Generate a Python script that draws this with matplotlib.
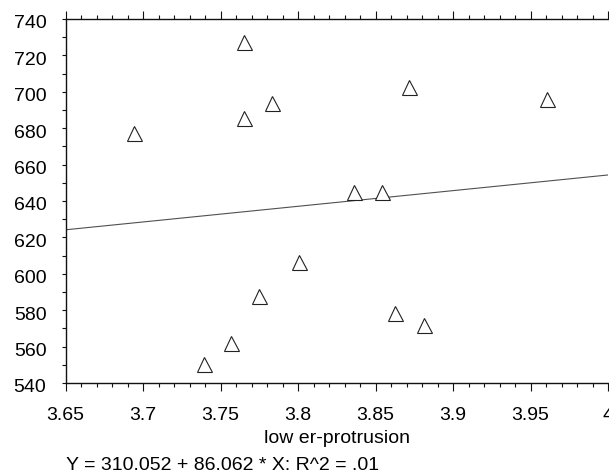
import matplotlib
matplotlib.use("Agg")
import matplotlib.pyplot as plt
from matplotlib.ticker import MultipleLocator, FixedLocator
import matplotlib.transforms as mtransforms
import numpy as np

plt.rcParams['font.family'] = ['Liberation Sans', 'DejaVu Sans']

# data
x_vals = [3.6944, 3.7652, 3.7834, 3.7652, 3.8714, 3.9606, 3.8361, 3.8541,
          3.8006, 3.7748, 3.7568, 3.7394, 3.8627, 3.8813]
y_vals = [677.2, 727.3, 694.0, 685.8, 702.5, 696.0, 645.1, 645.1,
          606.5, 587.8, 561.8, 550.3, 578.5, 572.0]
intercept = 310.052
slope = 86.062
x_ticks = [3.65, 3.7, 3.75, 3.8, 3.85, 3.9, 3.95, 4.0]
x_ticklabels = ['3.65', '3.7', '3.75', '3.8', '3.85', '3.9', '3.95', '4']
y_ticks = [540, 560, 580, 600, 620, 640, 660, 680, 700, 720, 740]
x_label = 'low er-protrusion'
footer = 'Y = 310.052 + 86.062 * X: R^2 = .01'

FS = 14
W, H = 609, 476
fig = plt.figure(figsize=(W / 100, H / 100), dpi=100)
ax = fig.add_axes([65.5 / W, 1 - 383 / H, (608 - 65.5) / W, (383 - 19) / H])

ax.set_xlim(3.65, 4.0)
ax.set_ylim(540, 740)

xl = np.array([3.65, 4.0])
ax.plot(xl, intercept + slope * xl, color='#505050', lw=0.8, zorder=2, clip_on=True)
ax.plot(x_vals, y_vals, linestyle='none', marker='^', ms=10.8, mfc='white',
        mec='#222222', mew=0.8, zorder=3, clip_on=False)

ax.spines['right'].set_visible(False)
for s in ['left', 'bottom', 'top']:
    ax.spines[s].set_linewidth(1.0)
    ax.spines[s].set_color('#111111')

ax.xaxis.set_major_locator(FixedLocator(x_ticks))
ax.set_xticklabels(x_ticklabels)
ax.xaxis.set_minor_locator(MultipleLocator(0.01))
ax.yaxis.set_major_locator(FixedLocator(y_ticks))
ax.yaxis.set_minor_locator(MultipleLocator(10))

ax.tick_params(axis='x', which='major', direction='out', length=6, width=0.8,
               top=True, bottom=True, labelsize=FS, pad=11, colors='#111111')
ax.tick_params(axis='x', which='minor', direction='out', length=3, width=0.8,
               top=True, bottom=True, colors='#111111')
ax.tick_params(axis='y', which='both', direction='out', length=3.2, width=0.8,
               left=True, right=False, labelsize=FS, pad=10.5, colors='#111111')

# y tick labels sit slightly below their ticks in the reference
offset = mtransforms.ScaledTranslation(0, -3 / 100, fig.dpi_scale_trans)
for t in ax.yaxis.get_major_ticks():
    t.label1.set_transform(t.label1.get_transform() + offset)
for lab in ax.get_xticklabels() + ax.get_yticklabels():
    lab.set_color('black')

ax.set_xlabel(x_label, fontsize=FS, labelpad=4.5)
fig.text(66.5 / W, 1 - 466 / H, footer, fontsize=FS, ha='left', va='center')

fig.savefig('out.png', dpi=100)
